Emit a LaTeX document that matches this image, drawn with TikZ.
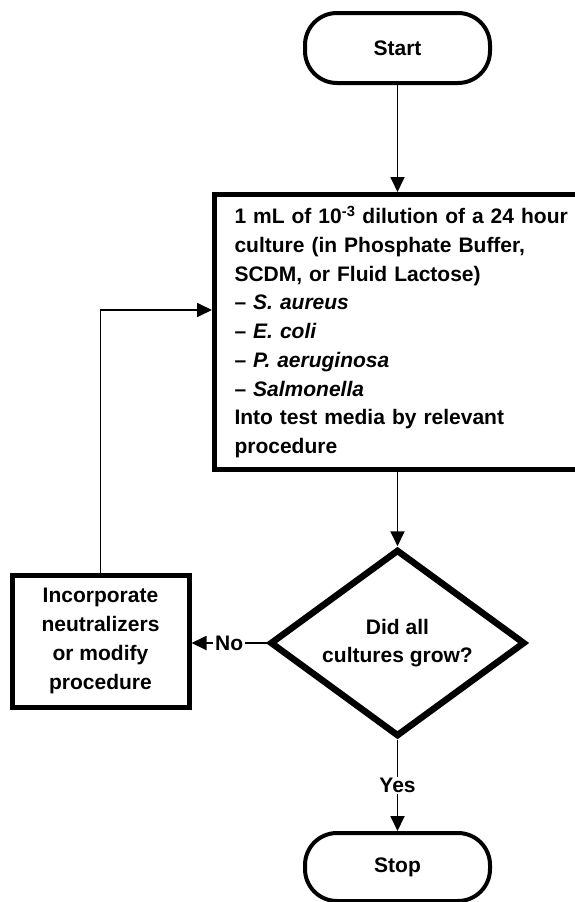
\documentclass[tikz,border=0pt]{standalone}
\usepackage{fontspec}
\setmainfont{Liberation Sans}
\usetikzlibrary{arrows.meta,positioning,shapes.geometric,calc}

\begin{document}
\begin{tikzpicture}[
  x=1pt, y=-1pt,
  font=\fontsize{21}{28.75}\selectfont\bfseries,
  terminal/.style={draw, line width=4pt, rounded corners=32pt, minimum width=185pt, minimum height=70pt},
  process/.style={draw, line width=5pt, align=left},
  decision/.style={draw, diamond, line width=6.5pt, aspect=1.36, inner sep=0pt, minimum width=255pt, minimum height=187pt, align=center},
  arrow/.style={-{Triangle[length=15pt,width=14pt]}, line width=1.8pt},
  tag/.style={fill=white, inner xsep=2pt, inner ysep=1pt}
]
\useasboundingbox (0,0) rectangle (574,902);
\node[terminal] (start) at (397.5,48) {Start};
\node[process, anchor=north west, text width=360pt, inner xsep=20pt, minimum height=275pt] (inoculum) at (212,192) {1 mL of 10\textsuperscript{-3} dilution of a 24 hour\\
culture (in Phosphate Buffer,\\
SCDM, or Fluid Lactose)\\
-- \textit{S. aureus}\\
-- \textit{E. coli}\\
-- \textit{P. aeruginosa}\\
-- \textit{Salmonella}\\
Into test media by relevant\\
procedure};
\node[decision] (check) at (397.5,643) {Did all\\cultures grow?};
\node[process, align=center, minimum width=177pt, minimum height=132pt] (fix) at (100.5,641) {Incorporate\\neutralizers\\or modify\\procedure};
\node[terminal, minimum height=68pt] (stop) at (397.5,867) {Stop};
\draw[arrow] (start) -- (start.south |- inoculum.north);
\draw[arrow] (inoculum.south -| check.north) -- (check.north);
\draw[arrow] (check.west) -- node[tag] {No} (check.west -| fix.east);
\draw[arrow] (check.south) -- node[tag] {Yes} (stop.north);
\draw[arrow] (fix.north) |- ([yshift=22pt]inoculum.west);
\end{tikzpicture}
\end{document}
